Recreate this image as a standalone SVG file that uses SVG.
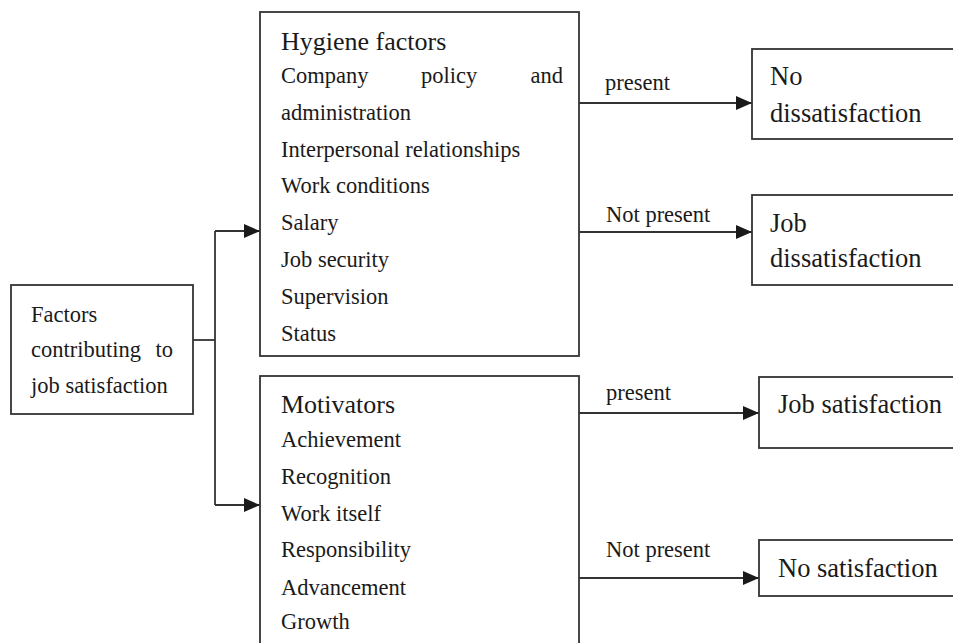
<svg xmlns="http://www.w3.org/2000/svg" width="953" height="643" viewBox="0 0 953 643">
<style>
.box{fill:#fff;stroke:#333;stroke-width:1.8}
.ln{fill:none;stroke:#333;stroke-width:1.8}
text{font-family:"Liberation Serif","Times New Roman",serif;fill:#1a1a1a}
.s{font-size:22.5px}
.h{font-size:26px}
.r{font-size:26.5px}
</style>
<defs>
<marker id="ah" markerUnits="userSpaceOnUse" markerWidth="16" markerHeight="14" refX="16" refY="7" orient="auto">
<path d="M0,0 L16,7 L0,14 z" fill="#1a1a1a"/>
</marker>
</defs>
<rect width="953" height="643" fill="#fff"/>
<g id="connectors">
<polyline class="ln" points="193,340 215,340"/>
<polyline class="ln" points="215,231 215,505"/>
<line class="ln" x1="215" y1="231" x2="260" y2="231" marker-end="url(#ah)"/>
<line class="ln" x1="215" y1="505" x2="260" y2="505" marker-end="url(#ah)"/>
<line class="ln" x1="579" y1="103" x2="752" y2="103" marker-end="url(#ah)"/>
<line class="ln" x1="579" y1="232" x2="752" y2="232" marker-end="url(#ah)"/>
<line class="ln" x1="579" y1="413" x2="759" y2="413" marker-end="url(#ah)"/>
<line class="ln" x1="579" y1="578" x2="759" y2="578" marker-end="url(#ah)"/>
<text class="s" x="605" y="90">present</text>
<text class="s" x="606" y="222">Not present</text>
<text class="s" x="606" y="400">present</text>
<text class="s" x="606" y="557">Not present</text>
</g>
<g id="factors">
<rect class="box" x="11" y="285" width="182" height="129"/>
<text class="s" x="31" y="322">Factors</text>
<text class="s" x="31" y="357">contributing</text>
<text class="s" x="173" y="357" text-anchor="end">to</text>
<text class="s" x="31" y="393">job satisfaction</text>
</g>
<g id="hygiene">
<rect class="box" x="260" y="12" width="319" height="344"/>
<text class="h" x="281" y="50">Hygiene factors</text>
<text class="s" x="281" y="83">Company</text>
<text class="s" x="421" y="83">policy</text>
<text class="s" x="563" y="83" text-anchor="end">and</text>
<text class="s" x="281" y="120">administration</text>
<text class="s" x="281" y="157">Interpersonal relationships</text>
<text class="s" x="281" y="193">Work conditions</text>
<text class="s" x="281" y="230">Salary</text>
<text class="s" x="281" y="267">Job security</text>
<text class="s" x="281" y="304">Supervision</text>
<text class="s" x="281" y="341">Status</text>
</g>
<g id="motivators">
<rect class="box" x="260" y="376" width="319" height="280"/>
<text class="h" x="281" y="413">Motivators</text>
<text class="s" x="281" y="447">Achievement</text>
<text class="s" x="281" y="484">Recognition</text>
<text class="s" x="281" y="521">Work itself</text>
<text class="s" x="281" y="557">Responsibility</text>
<text class="s" x="281" y="595">Advancement</text>
<text class="s" x="281" y="629">Growth</text>
</g>
<g id="no-dissatisfaction">
<rect class="box" x="752" y="49" width="220" height="90"/>
<text class="r" x="770" y="85">No</text>
<text class="r" x="770" y="122">dissatisfaction</text>
</g>
<g id="job-dissatisfaction">
<rect class="box" x="752" y="195" width="220" height="90"/>
<text class="r" x="770" y="232">Job</text>
<text class="r" x="770" y="267">dissatisfaction</text>
</g>
<g id="job-satisfaction">
<rect class="box" x="759" y="377" width="220" height="71"/>
<text class="r" x="778" y="413">Job satisfaction</text>
</g>
<g id="no-satisfaction">
<rect class="box" x="759" y="540" width="220" height="56"/>
<text class="r" x="778" y="577">No satisfaction</text>
</g>
</svg>
